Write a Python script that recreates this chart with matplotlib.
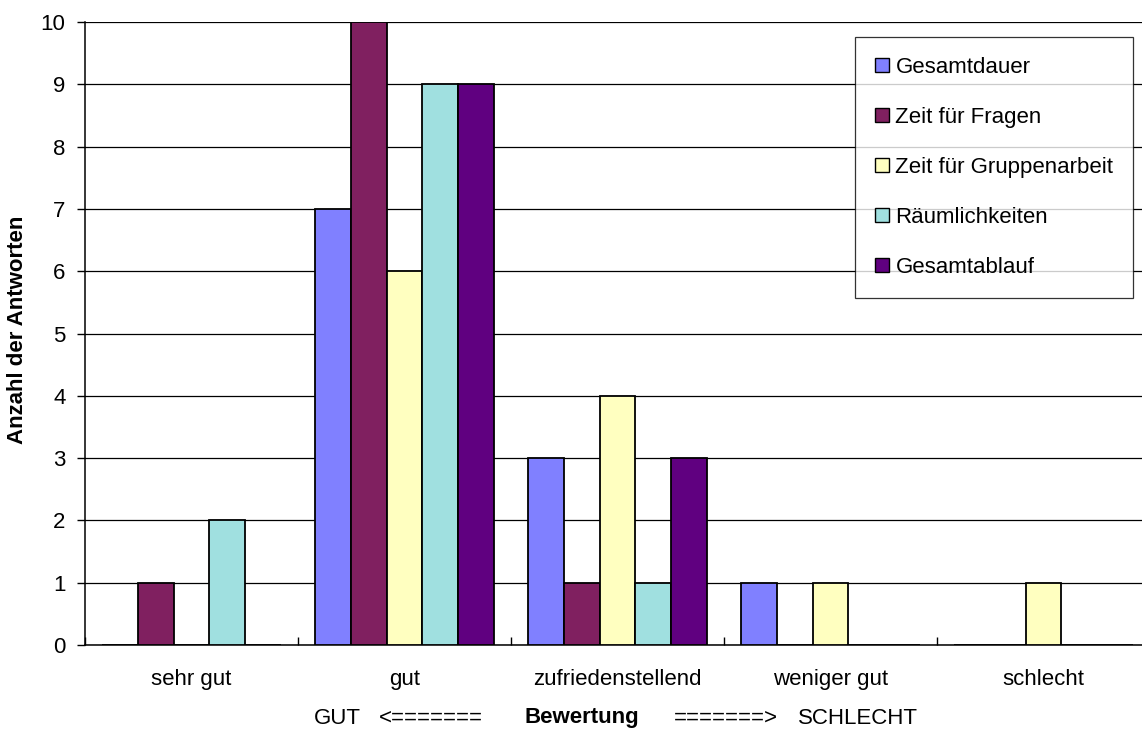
import matplotlib
matplotlib.use("Agg")
import matplotlib.pyplot as plt
import numpy as np

plt.rcParams['font.family'] = ['Liberation Sans', 'DejaVu Sans']

categories = ["sehr gut", "gut", "zufriedenstellend", "weniger gut", "schlecht"]
series_names = ["Gesamtdauer", "Zeit für Fragen", "Zeit für Gruppenarbeit",
                "Räumlichkeiten", "Gesamtablauf"]
gesamtdauer = [0, 7, 3, 1, 0]
zeit_fragen = [1, 10, 1, 0, 0]
zeit_gruppenarbeit = [0, 6, 4, 1, 1]
raeumlichkeiten = [2, 9, 1, 0, 0]
gesamtablauf = [0, 9, 3, 0, 0]
series_values = [gesamtdauer, zeit_fragen, zeit_gruppenarbeit, raeumlichkeiten, gesamtablauf]
colors = ["#8080FF", "#802060", "#FFFFC0", "#A0E0E0", "#600080"]

W, H = 1142, 731
fig = plt.figure(figsize=(W / 100, H / 100), dpi=100)
left, right, top, bottom = 85, 1150, 22, 645
ax = fig.add_axes([left / W, 1 - bottom / H, (right - left) / W, (bottom - top) / H])

x = np.arange(len(categories))
bw = 0.169
for i, (name, vals, col) in enumerate(zip(series_names, series_values, colors)):
    ax.bar(x + (i - 2) * bw, vals, width=bw, color=col, edgecolor="black",
           linewidth=1.3, label=name, zorder=3)

ax.set_xlim(-0.5, len(categories) - 0.5)
ax.set_ylim(0, 10)
ax.set_yticks(range(0, 11))
ax.yaxis.grid(True, color="black", linewidth=0.9, zorder=0)
ax.set_axisbelow(True)
for s in ("top", "right"):
    ax.spines[s].set_visible(False)
ax.spines["left"].set_linewidth(1.1)
ax.spines["bottom"].set_linewidth(1.1)
ax.tick_params(axis="y", direction="out", length=6, width=1.0, pad=8, labelsize=16)

# category boundaries carry the tick marks, labels sit at the centres
ax.set_xticks(np.arange(-0.5, len(categories) + 0.5, 1.0))
ax.set_xticklabels([])
ax.tick_params(axis="x", which="major", direction="in", length=6, width=1.0)
ax.set_xticks(x, minor=True)
ax.set_xticklabels(categories, minor=True)
ax.tick_params(axis="x", which="minor", length=0, pad=17, labelsize=16)

fig.text(18 / W, 1 - 330 / H, "Anzahl der Antworten", rotation=90, fontsize=16,
         fontweight="bold", ha="center", va="center")

# scale description under the categories
yb = 1 - 718 / H
fig.text(314 / W, yb, "GUT", fontsize=16, ha="left", va="center")
fig.text(379 / W, yb, "<=======", fontsize=16, ha="left", va="center")
fig.text(525 / W, yb, "Bewertung", fontsize=16, fontweight="bold", ha="left", va="center")
fig.text(778 / W, yb, "=======>", fontsize=16, ha="right", va="center")
fig.text(798 / W, yb, "SCHLECHT", fontsize=16, ha="left", va="center")

leg = ax.legend(loc="upper left", bbox_to_anchor=(855 / W, 1 - 37 / H),
                bbox_transform=fig.transFigure, fontsize=16, frameon=True,
                fancybox=False, handlelength=0.62, handleheight=0.62,
                handletextpad=0.3, labelspacing=1.3, borderpad=0.9,
                borderaxespad=0)
leg.get_frame().set_edgecolor("black")
leg.get_frame().set_linewidth(0.9)
for p in leg.get_patches():
    p.set_linewidth(1.0)

fig.savefig("out.png", dpi=100)
